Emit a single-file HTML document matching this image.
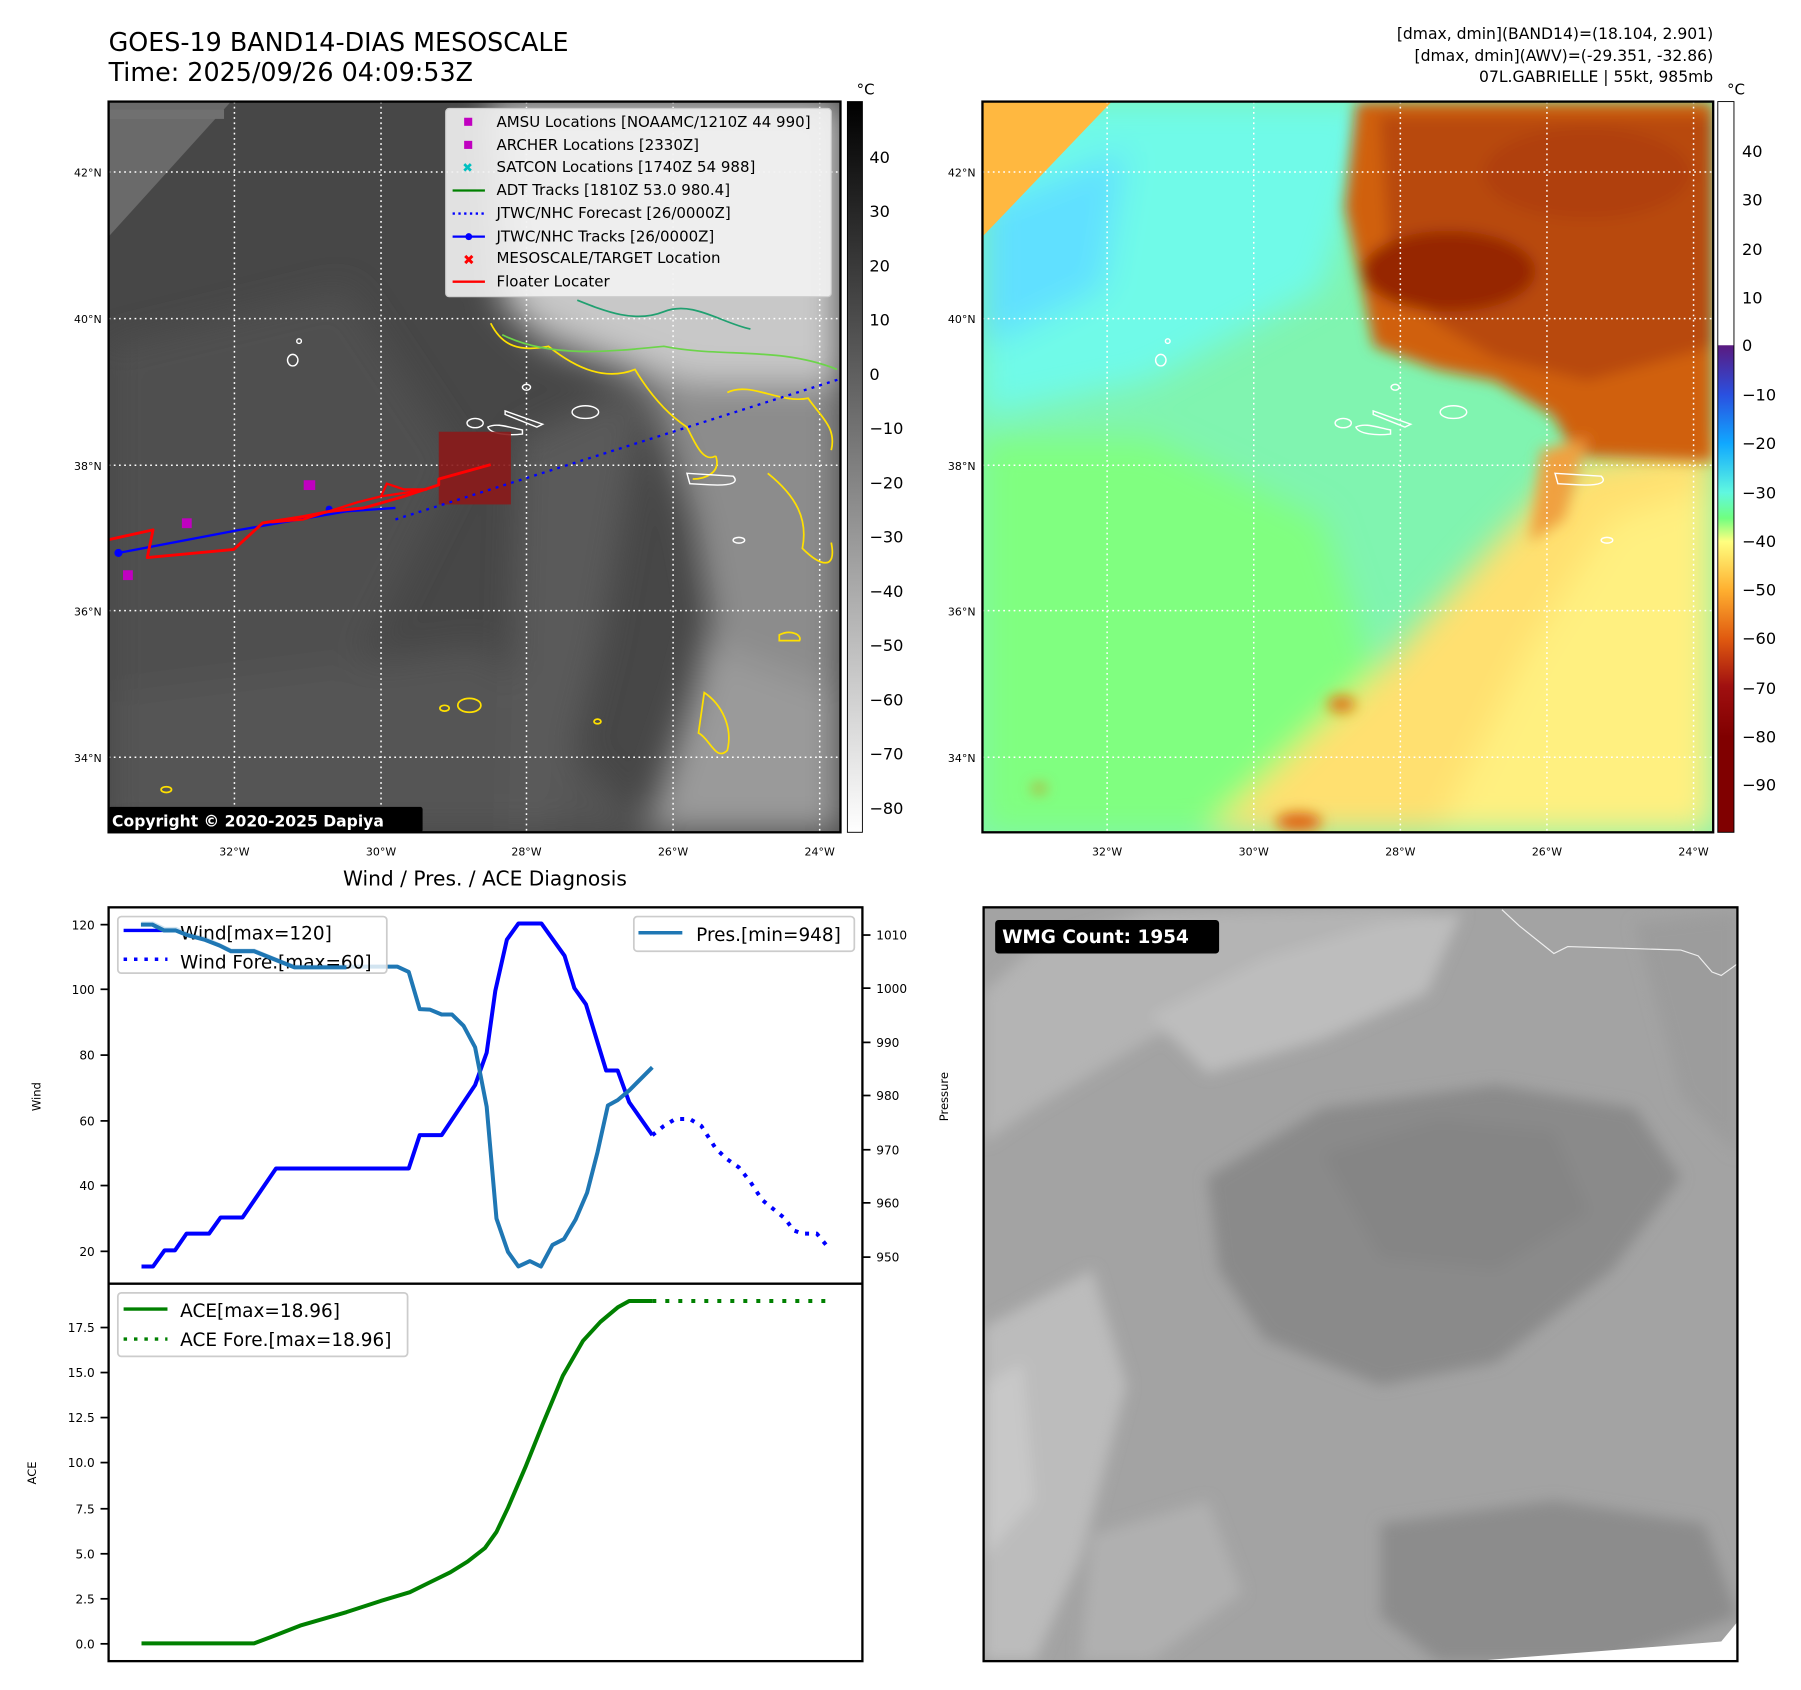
<!DOCTYPE html>
<html><head><meta charset="utf-8"><style>
html,body{margin:0;padding:0;background:#fff}
svg{display:block}
text{font-family:"DejaVu Sans","Liberation Sans",sans-serif;fill:#000}
</style></head><body>
<svg width="1801" height="1690" viewBox="0 0 1560 1464" xmlns="http://www.w3.org/2000/svg">
<defs>
<linearGradient id="cb1" x1="0" y1="0" x2="0" y2="1"><stop offset="0" stop-color="#000"/><stop offset="1" stop-color="#fff"/></linearGradient>
<linearGradient id="cb2" x1="0" y1="0" x2="0" y2="1">
<stop offset="0" stop-color="#fff"/><stop offset="0.333" stop-color="#fff"/>
<stop offset="0.334" stop-color="#5a1a80"/>
<stop offset="0.401" stop-color="#2a50e0"/>
<stop offset="0.468" stop-color="#10a8ff"/>
<stop offset="0.535" stop-color="#60f8e0"/>
<stop offset="0.57" stop-color="#70ff80"/>
<stop offset="0.602" stop-color="#ffff80"/>
<stop offset="0.668" stop-color="#ffb030"/>
<stop offset="0.735" stop-color="#e05a10"/>
<stop offset="0.80" stop-color="#a01010"/>
<stop offset="0.87" stop-color="#800000"/>
<stop offset="1" stop-color="#800000"/>
</linearGradient>
<filter id="bl" x="-20%" y="-20%" width="140%" height="140%"><feGaussianBlur stdDeviation="14"/></filter>
<filter id="bl2" x="-20%" y="-20%" width="140%" height="140%"><feGaussianBlur stdDeviation="6"/></filter>
<clipPath id="c1"><rect x="94" y="88" width="634" height="633"/></clipPath>
<clipPath id="c2"><rect x="856" y="88" width="633" height="633"/></clipPath>
<clipPath id="c3"><rect x="856" y="786" width="653" height="653"/></clipPath>
<clipPath id="c4"><rect x="94" y="786" width="653" height="653"/></clipPath>
</defs>

<text x="94" y="44" font-size="22">GOES-19 BAND14-DIAS MESOSCALE</text>
<text x="94" y="70" font-size="22">Time: 2025/09/26 04:09:53Z</text>
<text x="1484" y="34" font-size="13.5" text-anchor="end">[dmax, dmin](BAND14)=(18.104, 2.901)</text>
<text x="1484" y="53" font-size="13.5" text-anchor="end">[dmax, dmin](AWV)=(-29.351, -32.86)</text>
<text x="1484" y="71" font-size="13.5" text-anchor="end">07L.GABRIELLE | 55kt, 985mb</text>

<g clip-path="url(#c1)">
<rect x="94" y="88" width="634" height="633" fill="#474747"/>
<g filter="url(#bl)">
<polygon points="94,300 300,250 400,400 300,600 94,721" fill="#505050"/>
<polygon points="94,600 420,560 560,721 94,721" fill="#555"/>
<polygon points="420,88 728,88 728,721 560,721 600,600 630,480 600,380 560,330 470,300 430,260" fill="#9a9a9a"/>
<polygon points="430,88 728,88 728,330 600,330 520,300 450,270" fill="#c8c8c8"/>
<polygon points="560,330 728,330 728,600 620,560 600,450" fill="#8c8c8c"/>
<polygon points="450,380 560,330 520,560 480,721 440,721" fill="#5a5a5a"/>
</g>
<polygon points="94,88 200,88 94,205" fill="#6a6a6a"/>
<rect x="94" y="95" width="100" height="8" fill="#707070"/>
<g fill="none" stroke="#fff" stroke-width="1.3" stroke-dasharray="1.5,3">
<line x1="203" y1="88" x2="203" y2="721"/><line x1="330" y1="88" x2="330" y2="721"/><line x1="456" y1="88" x2="456" y2="721"/><line x1="583" y1="88" x2="583" y2="721"/><line x1="710" y1="88" x2="710" y2="721"/>
<line x1="94" y1="149" x2="728" y2="149"/><line x1="94" y1="276" x2="728" y2="276"/><line x1="94" y1="403" x2="728" y2="403"/><line x1="94" y1="529" x2="728" y2="529"/><line x1="94" y1="656" x2="728" y2="656"/>
</g>
<g transform="scale(0.5)" fill="none">
<path d="M850,560 C870,600 900,610 950,600 C1000,640 1050,660 1100,640 C1130,690 1160,720 1190,740 C1210,780 1220,800 1240,790" stroke="#ffe000" stroke-width="3"/>
<path d="M1240,790 C1250,820 1220,830 1200,830" stroke="#ffe000" stroke-width="3"/>
<path d="M870,580 C950,620 1050,610 1150,600 C1250,620 1350,600 1450,640" stroke="#6cd44a" stroke-width="3"/>
<path d="M1000,520 C1050,540 1100,560 1150,540 C1200,520 1250,560 1300,570" stroke="#20a070" stroke-width="3"/>
<path d="M1330,820 C1380,860 1400,900 1390,950 C1420,980 1450,990 1440,940" stroke="#ffe000" stroke-width="3"/>
<path d="M1260,680 C1300,660 1350,700 1400,690 C1420,720 1450,740 1440,780" stroke="#ffe000" stroke-width="3"/>
<path d="M1220,1200 C1250,1220 1270,1260 1260,1300 C1240,1320 1230,1280 1210,1270 Z" stroke="#ffe000" stroke-width="3"/>
<ellipse cx="813" cy="1222" rx="20" ry="12" stroke="#ffe000" stroke-width="3"/>
<ellipse cx="770" cy="1227" rx="8" ry="5" stroke="#ffe000" stroke-width="3"/>
<ellipse cx="1035" cy="1250" rx="6" ry="4" stroke="#ffe000" stroke-width="3"/>
<ellipse cx="288" cy="1368" rx="9" ry="5" stroke="#ffe000" stroke-width="3"/>
<path d="M1350,1100 C1370,1090 1390,1100 1385,1110 L1350,1110 Z" stroke="#ffe000" stroke-width="3"/>
<g stroke="#fff" stroke-width="2.5">
<ellipse cx="507" cy="624" rx="9" ry="10"/><ellipse cx="518" cy="591" rx="4" ry="4"/>
<ellipse cx="912" cy="671" rx="7" ry="5"/><path d="M875,712 L940,735 L930,740 L875,718 Z"/>
<ellipse cx="1014" cy="714" rx="23" ry="11"/><ellipse cx="823" cy="733" rx="14" ry="8"/>
<path d="M845,740 C860,732 880,740 905,745 L905,752 C880,755 850,752 845,740 Z"/>
<path d="M1190,820 L1270,825 C1280,835 1270,842 1230,840 L1195,838 Z"/>
<ellipse cx="1280" cy="936" rx="10" ry="5"/>
</g>
</g>
<g transform="scale(0.5)" fill="none">
<rect x="760" y="748" width="125" height="126" fill="#8b1a1a" fill-opacity="0.9"/>
<polyline points="685,900 1457,656" stroke="#0000ff" stroke-width="4" stroke-dasharray="5,9"/>
<polyline points="205,958 415,918 600,886 685,880" stroke="#0000ff" stroke-width="4"/>
<circle cx="205" cy="958" r="7" fill="#0000ff"/><circle cx="570" cy="882" r="6" fill="#0000ff"/>
<polyline points="188,935 265,918 255,966 405,952 455,906 525,895 570,886 630,880 700,860 760,840 760,830 850,805" stroke="#ff0000" stroke-width="5" stroke-linejoin="round"/>
<polyline points="455,906 490,900 470,905 525,900 620,870 660,860 670,838 700,848 740,848 660,860" stroke="#ff0000" stroke-width="4"/>
<rect x="526" y="832" width="20" height="17" fill="#c000c0"/>
<rect x="315" y="898" width="17" height="17" fill="#c000c0"/>
<rect x="213" y="988" width="17" height="17" fill="#c000c0"/>
</g>
<rect x="386" y="94" width="334" height="163" rx="3" fill="#f2f2f2" fill-opacity="0.9" stroke="#ccc"/>
<rect x="402" y="102" width="7" height="7" fill="#c000c0"/>
<rect x="402" y="122" width="7" height="7" fill="#c000c0"/>
<text x="405" y="149" font-size="11" text-anchor="middle" style="fill:#00c0c0">✖</text>
<line x1="392" y1="165" x2="420" y2="165" stroke="#008000" stroke-width="2"/>
<line x1="392" y1="185" x2="420" y2="185" stroke="#0000ff" stroke-width="2" stroke-dasharray="2,3"/>
<line x1="392" y1="205" x2="420" y2="205" stroke="#0000ff" stroke-width="2"/><circle cx="406" cy="205" r="3" fill="#0000ff"/>
<text x="406" y="229" font-size="12" text-anchor="middle" style="fill:#ff0000;font-weight:bold">✖</text>
<line x1="392" y1="244" x2="420" y2="244" stroke="#ff0000" stroke-width="2"/>
<g font-size="13">
<text x="430" y="110">AMSU Locations [NOAAMC/1210Z 44 990]</text>
<text x="430" y="130">ARCHER Locations [2330Z]</text>
<text x="430" y="149">SATCON Locations [1740Z 54 988]</text>
<text x="430" y="169">ADT Tracks [1810Z 53.0 980.4]</text>
<text x="430" y="189">JTWC/NHC Forecast [26/0000Z]</text>
<text x="430" y="209">JTWC/NHC Tracks [26/0000Z]</text>
<text x="430" y="228">MESOSCALE/TARGET Location</text>
<text x="430" y="248">Floater Locater</text>
</g>
<rect x="94" y="699" width="272" height="22" fill="#000" rx="2"/>
<text x="97" y="716" font-size="13.5" font-weight="bold" style="fill:#fff">Copyright © 2020-2025 Dapiya</text>
</g>
<rect x="94" y="88" width="634" height="633" fill="none" stroke="#000" stroke-width="2"/>

<g font-size="9.5" text-anchor="end">
<text x="88" y="153">42°N</text><text x="88" y="280">40°N</text><text x="88" y="407">38°N</text><text x="88" y="533">36°N</text><text x="88" y="660">34°N</text>
</g>
<g font-size="9.5" text-anchor="middle">
<text x="203" y="741">32°W</text><text x="330" y="741">30°W</text><text x="456" y="741">28°W</text><text x="583" y="741">26°W</text><text x="710" y="741">24°W</text>
</g>

<rect x="734" y="88" width="13" height="633" fill="url(#cb1)" stroke="#000" stroke-width="0.8"/>
<text x="742" y="82" font-size="13">°C</text>
<g font-size="14">
<text x="753" y="141">40</text><text x="753" y="188">30</text><text x="753" y="235">20</text><text x="753" y="282">10</text><text x="753" y="329">0</text>
<text x="753" y="376">−10</text><text x="753" y="423">−20</text><text x="753" y="470">−30</text><text x="753" y="517">−40</text><text x="753" y="564">−50</text><text x="753" y="611">−60</text><text x="753" y="658">−70</text><text x="753" y="705">−80</text>
</g>

<g transform="translate(-5,0)">
<g font-size="9.5" text-anchor="middle">
<text x="964" y="741">32°W</text><text x="1091" y="741">30°W</text><text x="1218" y="741">28°W</text><text x="1345" y="741">26°W</text><text x="1472" y="741">24°W</text>
</g>
<g font-size="9.5" text-anchor="end">
<text x="850" y="153">42°N</text><text x="850" y="280">40°N</text><text x="850" y="407">38°N</text><text x="850" y="533">36°N</text><text x="850" y="660">34°N</text>
</g>
<g clip-path="url(#c2)">
<rect x="856" y="88" width="633" height="633" fill="#80f4b0"/>
<g filter="url(#bl)">
<polygon points="856,88 1200,88 1150,250 1000,330 856,360" fill="#70fae8"/>
<polygon points="856,180 980,130 960,250 856,300" fill="#60e0ff"/>
<polygon points="856,380 1000,380 1150,450 1200,600 1100,721 856,721" fill="#80ff80"/>
<polygon points="1050,721 1200,580 1300,470 1370,400 1489,380 1489,721" fill="#ffe070"/>
<polygon points="1250,721 1330,560 1400,450 1489,420 1489,721" fill="#fff080"/>
</g>
<g filter="url(#bl2)">
<polygon points="1180,88 1489,88 1489,400 1370,395 1350,360 1300,330 1250,320 1195,300 1185,250 1170,180" fill="#d06010"/>
<polygon points="1200,100 1489,100 1489,300 1380,330 1300,310 1250,280 1210,240" fill="#b84808"/>
<ellipse cx="1260" cy="235" rx="75" ry="35" fill="#962800"/>
<ellipse cx="1380" cy="150" rx="90" ry="40" fill="#b04008"/>
<polygon points="1340,390 1380,380 1360,450 1330,470" fill="#f0a040"/>
</g>
<polygon points="856,88 968,88 856,205" fill="#ffb840"/>
<g filter="url(#bl2)">
<ellipse cx="1167" cy="610" rx="12" ry="7" fill="#e07010"/>
<ellipse cx="1130" cy="712" rx="20" ry="8" fill="#e06010"/>
<ellipse cx="905" cy="683" rx="6" ry="3" fill="#e07010"/>
</g>
<g fill="none" stroke="#fff" stroke-width="1.3" stroke-dasharray="1.5,3">
<line x1="964" y1="88" x2="964" y2="721"/><line x1="1091" y1="88" x2="1091" y2="721"/><line x1="1218" y1="88" x2="1218" y2="721"/><line x1="1345" y1="88" x2="1345" y2="721"/><line x1="1472" y1="88" x2="1472" y2="721"/>
<line x1="856" y1="149" x2="1489" y2="149"/><line x1="856" y1="276" x2="1489" y2="276"/><line x1="856" y1="403" x2="1489" y2="403"/><line x1="856" y1="529" x2="1489" y2="529"/><line x1="856" y1="656" x2="1489" y2="656"/>
</g>
<g transform="translate(779.5,0) scale(0.5)" fill="none" stroke="#fff" stroke-width="2.5">
<ellipse cx="462" cy="624" rx="9" ry="10"/><ellipse cx="474" cy="591" rx="4" ry="4"/>
<ellipse cx="868" cy="671" rx="7" ry="5"/><path d="M830,712 L895,735 L885,740 L830,718 Z"/>
<ellipse cx="969" cy="714" rx="23" ry="11"/><ellipse cx="778" cy="733" rx="14" ry="8"/>
<path d="M800,740 C815,732 835,740 860,745 L860,752 C835,755 805,752 800,740 Z"/>
<path d="M1145,820 L1225,825 C1235,835 1225,842 1185,840 L1150,838 Z"/>
<ellipse cx="1235" cy="936" rx="10" ry="5"/>
</g>
</g>
<rect x="856" y="88" width="633" height="633" fill="none" stroke="#000" stroke-width="2"/>
<rect x="1493" y="88" width="14" height="633" fill="url(#cb2)" stroke="#000" stroke-width="0.8"/>
<text x="1501" y="82" font-size="13">°C</text>
<g font-size="14">
<text x="1514" y="136">40</text><text x="1514" y="178">30</text><text x="1514" y="221">20</text><text x="1514" y="263">10</text><text x="1514" y="304">0</text>
<text x="1514" y="347">−10</text><text x="1514" y="389">−20</text><text x="1514" y="432">−30</text><text x="1514" y="474">−40</text><text x="1514" y="516">−50</text><text x="1514" y="558">−60</text><text x="1514" y="601">−70</text><text x="1514" y="643">−80</text><text x="1514" y="685">−90</text>
</g>
</g>

<text x="420" y="767" font-size="17.5" text-anchor="middle">Wind / Pres. / ACE Diagnosis</text>
<g clip-path="url(#c4)">
<g transform="matrix(0.5,0,0,0.4664,0,739.4)" fill="none" stroke-linejoin="round">
<polyline vector-effect="non-scaling-stroke" stroke="#0000ff" stroke-width="4" points="245,767 265,767 285,737 303,737 323,706 362,706 382,676 420,676 478,585 708,585 727,523 765,523 823,430 843,370 858,255 878,160 898,130 938,130 978,190 995,250 1015,280 1050,403 1070,403 1090,462 1130,523"/>
<polyline vector-effect="non-scaling-stroke" stroke="#0000ff" stroke-width="4" stroke-dasharray="4,7" points="1130,523 1150,506 1170,493 1195,493 1215,506 1240,548 1260,568 1280,583 1300,610 1320,643 1345,665 1360,678 1375,700 1390,706 1415,706 1432,728"/>
<polyline vector-effect="non-scaling-stroke" stroke="#1f77b4" stroke-width="4" points="245,130 265,130 285,140 305,140 325,150 355,158 380,170 400,180 440,180 480,198 510,210 688,210 708,220 727,289 745,290 765,299 783,299 803,320 823,360 843,470 860,678 880,740 898,767 918,757 937,767 957,727 977,716 997,680 1017,630 1035,555 1053,468 1070,458 1090,440 1130,397"/>
<polyline vector-effect="non-scaling-stroke" stroke="#008000" stroke-width="4" points="245,1467 440,1467 470,1455 520,1434 600,1409 660,1388 710,1372 740,1356 780,1335 810,1315 840,1290 860,1260 880,1215 910,1140 940,1060 975,970 1010,905 1040,870 1070,843 1090,831 1130,831"/>
<polyline vector-effect="non-scaling-stroke" stroke="#008000" stroke-width="4" stroke-dasharray="4,9" points="1130,831 1432,831"/>
</g>
</g>
<rect x="94" y="786" width="653" height="653" fill="none" stroke="#000" stroke-width="2"/>
<line x1="94" y1="1112" x2="747" y2="1112" stroke="#000" stroke-width="2"/>
<g stroke="#000" stroke-width="1.5">
<line x1="87" y1="801" x2="94" y2="801"/><line x1="87" y1="857" x2="94" y2="857"/><line x1="87" y1="914" x2="94" y2="914"/><line x1="87" y1="971" x2="94" y2="971"/><line x1="87" y1="1027" x2="94" y2="1027"/><line x1="87" y1="1084" x2="94" y2="1084"/>
<line x1="747" y1="810" x2="754" y2="810"/><line x1="747" y1="856" x2="754" y2="856"/><line x1="747" y1="903" x2="754" y2="903"/><line x1="747" y1="949" x2="754" y2="949"/><line x1="747" y1="996" x2="754" y2="996"/><line x1="747" y1="1042" x2="754" y2="1042"/><line x1="747" y1="1089" x2="754" y2="1089"/>
<line x1="87" y1="1150" x2="94" y2="1150"/><line x1="87" y1="1189" x2="94" y2="1189"/><line x1="87" y1="1228" x2="94" y2="1228"/><line x1="87" y1="1267" x2="94" y2="1267"/><line x1="87" y1="1307" x2="94" y2="1307"/><line x1="87" y1="1346" x2="94" y2="1346"/><line x1="87" y1="1385" x2="94" y2="1385"/><line x1="87" y1="1424" x2="94" y2="1424"/>
</g>
<g font-size="10.5" text-anchor="end">
<text x="82" y="805">120</text><text x="82" y="861">100</text><text x="82" y="918">80</text><text x="82" y="975">60</text><text x="82" y="1031">40</text><text x="82" y="1088">20</text>
<text x="82" y="1154">17.5</text><text x="82" y="1193">15.0</text><text x="82" y="1232">12.5</text><text x="82" y="1271">10.0</text><text x="82" y="1311">7.5</text><text x="82" y="1350">5.0</text><text x="82" y="1389">2.5</text><text x="82" y="1428">0.0</text>
</g>
<g font-size="10.5">
<text x="759" y="814">1010</text><text x="759" y="860">1000</text><text x="759" y="907">990</text><text x="759" y="953">980</text><text x="759" y="1000">970</text><text x="759" y="1046">960</text><text x="759" y="1093">950</text>
</g>
<text font-size="10" transform="translate(35,950) rotate(-90)" text-anchor="middle">Wind</text>
<text font-size="10" transform="translate(31,1276) rotate(-90)" text-anchor="middle">ACE</text>
<text font-size="10" transform="translate(821,950) rotate(-90)" text-anchor="middle">Pressure</text>
<rect x="102" y="794" width="233" height="49" rx="3" fill="#fff" fill-opacity="0.8" stroke="#ccc" stroke-width="1.5"/>
<line x1="107" y1="806" x2="145" y2="806" stroke="#0000ff" stroke-width="3"/>
<line x1="107" y1="831" x2="145" y2="831" stroke="#0000ff" stroke-width="3" stroke-dasharray="3,6"/>
<text x="156" y="814" font-size="16">Wind[max=120]</text>
<text x="156" y="839" font-size="16">Wind Fore.[max=60]</text>
<polyline points="122,801 132,801 142,806 152,806 162,810 177,814 190,819 200,824 220,824 240,832 255,838 300,838" fill="none" stroke="#1f77b4" stroke-width="3.5"/>
<rect x="549" y="794" width="191" height="30" rx="3" fill="#fff" fill-opacity="0.8" stroke="#ccc" stroke-width="1.5"/>
<line x1="553" y1="808" x2="591" y2="808" stroke="#1f77b4" stroke-width="3"/>
<text x="603" y="815" font-size="16">Pres.[min=948]</text>
<rect x="102" y="1120" width="251" height="55" rx="3" fill="#fff" fill-opacity="0.8" stroke="#ccc" stroke-width="1.5"/>
<line x1="107" y1="1134" x2="145" y2="1134" stroke="#008000" stroke-width="3"/>
<line x1="107" y1="1160" x2="145" y2="1160" stroke="#008000" stroke-width="3" stroke-dasharray="3,6"/>
<text x="156" y="1141" font-size="16">ACE[max=18.96]</text>
<text x="156" y="1166" font-size="16">ACE Fore.[max=18.96]</text>

<g transform="translate(-4,0)">
<g clip-path="url(#c3)">
<rect x="856" y="786" width="653" height="653" fill="#a3a3a3"/>
<g filter="url(#bl2)">
<polygon points="856,860 900,820 1000,790 1200,786 1250,790 1200,830 1100,860 1000,900 900,960 856,990" fill="#b4b4b4"/>
<polygon points="1000,880 1100,830 1200,800 1270,790 1240,860 1150,900 1050,930" fill="#bdbdbd"/>
<polygon points="1050,1020 1150,960 1300,940 1420,960 1460,1020 1400,1100 1300,1180 1200,1200 1100,1160 1060,1100" fill="#8a8a8a"/>
<polygon points="1150,1000 1250,970 1350,980 1380,1050 1300,1100 1200,1090" fill="#858585"/>
<polygon points="1200,1320 1350,1300 1480,1320 1509,1400 1400,1439 1250,1439 1200,1400" fill="#8c8c8c"/>
<polygon points="856,1150 950,1100 980,1200 940,1350 900,1439 856,1439" fill="#bcbcbc"/>
<polygon points="856,1200 890,1180 900,1300 856,1350" fill="#c8c8c8"/>
<polygon points="950,1330 1050,1300 1080,1380 1000,1439 940,1439" fill="#b0b0b0"/>
<polygon points="1420,800 1509,790 1509,1000 1460,950" fill="#9c9c9c"/>
</g>
<polygon points="1280,1439 1495,1422 1509,1405 1509,1439" fill="#fff"/>
<polyline points="1305,788 1320,802 1350,826 1362,820 1460,823 1475,828 1487,842 1495,845 1509,835" fill="none" stroke="#eee" stroke-width="1"/>
</g>
<rect x="856" y="786" width="653" height="653" fill="none" stroke="#000" stroke-width="2"/>
<rect x="866" y="797" width="194" height="29" rx="3" fill="#000"/>
<text x="872" y="817" font-size="16" font-weight="bold" style="fill:#fff">WMG Count: 1954</text>
</g>
</svg>
</body></html>
